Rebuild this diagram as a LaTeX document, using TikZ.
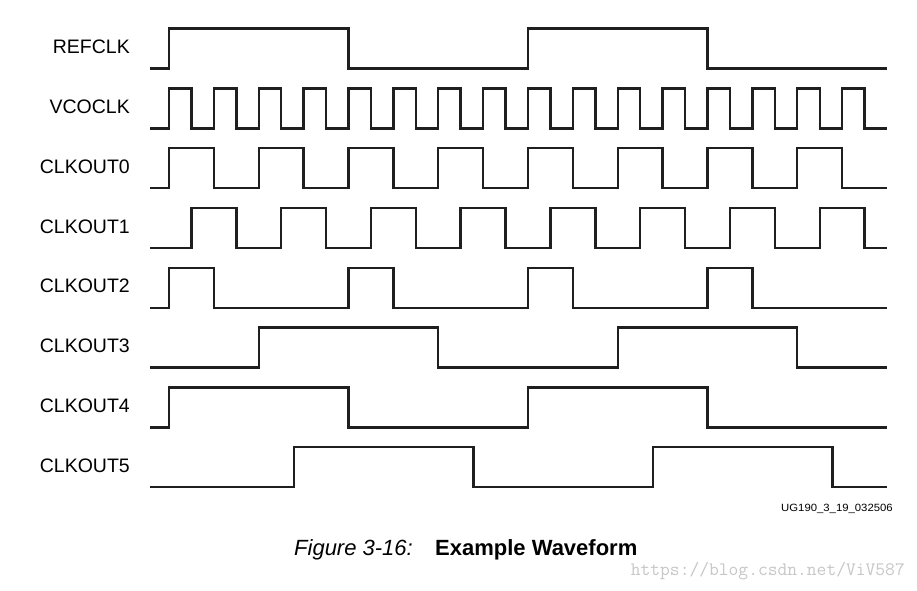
\documentclass[tikz,border=0pt]{standalone}
\usepackage{fontspec}
\setmainfont{Liberation Sans}
\begin{document}
\begin{tikzpicture}[x=1pt,y=-1pt,
  wave/.style={line width=2.4pt,draw=black!88,line join=miter},
  siglabel/.style={anchor=east,inner sep=0pt,font=\fontsize{19.5}{22}\selectfont},
]
\useasboundingbox[fill=white] (0,0) rectangle (917,590);
\def\T{22.4375}
% \clkwave{name}{yLow}{phase}{high}{period}{count}
\newcommand\clkwave[6]{%
  \node[siglabel] (#1) at (130,{#2-21.5}) {#1};
  \draw[wave] (150,#2)
    \foreach \k in {1,...,#6}{
      -- ({169+(#3+(\k-1)*#5)*\T},#2) -- ({169+(#3+(\k-1)*#5)*\T},{#2-40})
      -- ({169+(#3+(\k-1)*#5+#4)*\T},{#2-40}) -- ({169+(#3+(\k-1)*#5+#4)*\T},#2)
    } -- (887,#2);
}
\clkwave{REFCLK}{68.5}{0}{8}{16}{2}
\clkwave{VCOCLK}{128.3}{0}{1}{2}{16}
\clkwave{CLKOUT0}{188.1}{0}{2}{4}{8}
\clkwave{CLKOUT1}{247.9}{1}{2}{4}{8}
\clkwave{CLKOUT2}{307.7}{0}{2}{8}{4}
\clkwave{CLKOUT3}{367.5}{4}{8}{16}{2}
\clkwave{CLKOUT4}{427.3}{0}{8}{16}{2}
\clkwave{CLKOUT5}{487.1}{5.57}{8}{16}{2}
\node[anchor=east,inner sep=0pt,font=\fontsize{10.5}{12}\selectfont,xscale=1.08] (fid) at (893,508.5) {UG190\_3\_19\_032506};
\node[anchor=base west,inner sep=0pt,font=\fontsize{22}{26}\selectfont\itshape] (cap) at (294,555.5) {Figure 3-16:};
\node[anchor=base west,inner sep=0pt,font=\fontsize{22}{26}\selectfont\bfseries] (capt) at (435,555.5) {Example Waveform};
\node[anchor=base east,inner sep=0pt,text=black!22,font=\fontsize{19}{22}\ttfamily] (wm) at (905,575.5) {https://blog.csdn.net/ViV587};
\end{tikzpicture}
\end{document}
